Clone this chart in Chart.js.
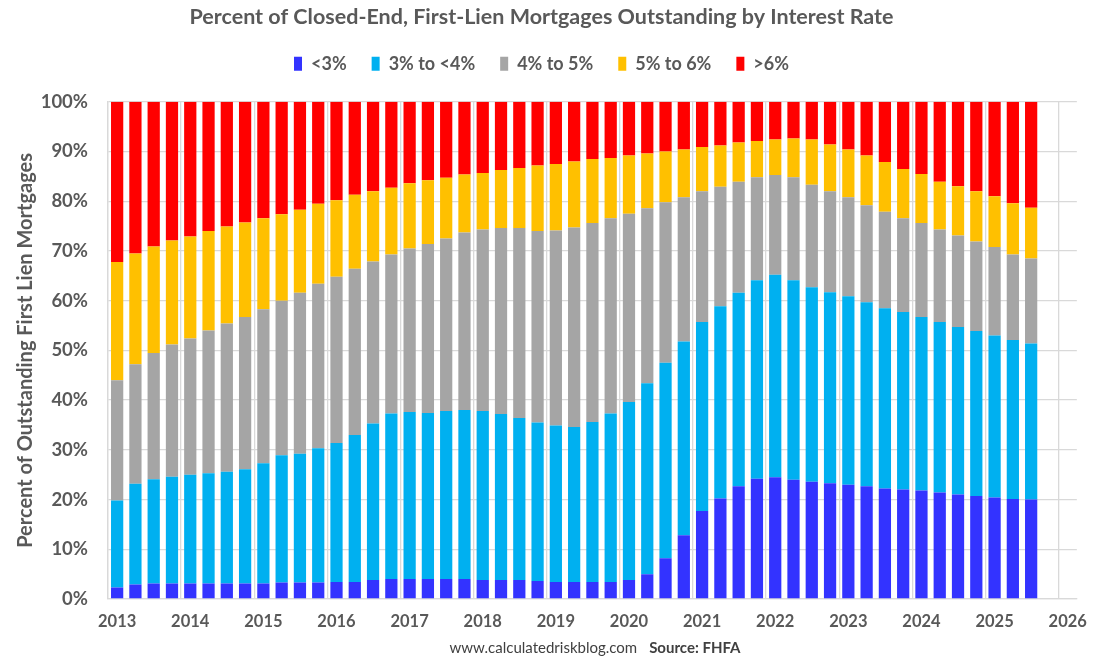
<!DOCTYPE html>
<html>
<head>
<meta charset="utf-8">
<script src="https://cdn.jsdelivr.net/npm/chart.js@4.4.1/dist/chart.umd.min.js"></script>
<style>
  html, body { margin: 0; padding: 0; background: #fff; }
  #wrap { width: 1100px; height: 667px; }
</style>
</head>
<body>
<div id="wrap"><canvas id="chart-rates"></canvas></div>
<script>
// quarters 2013 Q1 .. 2026 Q1 (last two slots have no data)
const quarters = [];
for (let y = 2013; y <= 2026; y++) {
  for (let q = 1; q <= 4; q++) {
    if (y === 2026 && q > 1) break;
    quarters.push(y + " Q" + q);
  }
}

const seriesNames = ["<3%", "3% to <4%", "4% to 5%", "5% to 6%", ">6%"];
const seriesColors = ["#3333FF", "#00B0F0", "#A5A5A5", "#FFC000", "#FF0000"];

const below3 = [
  2.3, 2.9, 3.1, 3.1, 3.1, 3.1, 3.1, 3.1, 3.1, 3.3, 3.3, 3.3,
  3.4, 3.4, 3.8, 4.0, 4.0, 4.0, 4.0, 4.0, 3.8, 3.8, 3.8, 3.6,
  3.4, 3.4, 3.4, 3.4, 3.8, 5.0, 8.2, 12.8, 17.7, 20.2, 22.7, 24.2,
  24.5, 24.0, 23.6, 23.3, 23.0, 22.7, 22.2, 22.0, 21.8, 21.4, 21.0, 20.7,
  20.4, 20.1, 20.0
];
const from3to4 = [
  17.5, 20.3, 21.0, 21.5, 21.9, 22.2, 22.5, 23.0, 24.2, 25.6, 25.9, 27.0,
  28.0, 29.6, 31.5, 33.3, 33.6, 33.4, 33.8, 34.0, 34.0, 33.4, 32.6, 31.9,
  31.5, 31.2, 32.2, 33.9, 35.8, 38.4, 39.3, 39.0, 38.0, 38.7, 38.9, 39.9,
  40.7, 40.1, 39.1, 38.4, 37.9, 37.0, 36.3, 35.7, 34.9, 34.3, 33.7, 33.2,
  32.6, 32.0, 31.4
];
const from4to5 = [
  24.2, 24.0, 25.4, 26.6, 27.4, 28.7, 29.8, 30.6, 31.0, 31.1, 32.4, 33.1,
  33.4, 33.4, 32.6, 32.0, 32.9, 34.0, 34.7, 35.7, 36.5, 37.4, 38.2, 38.5,
  39.2, 40.1, 40.0, 39.3, 37.9, 35.2, 32.3, 29.0, 26.3, 24.0, 22.3, 20.7,
  20.1, 20.7, 20.6, 20.3, 19.9, 19.5, 19.4, 18.9, 18.9, 18.6, 18.4, 18.0,
  17.8, 17.2, 17.1
];
const from5to6 = [
  23.8, 22.3, 21.4, 20.9, 20.5, 20.0, 19.5, 19.0, 18.3, 17.4, 16.7, 16.1,
  15.4, 14.9, 14.1, 13.4, 13.1, 12.8, 12.2, 11.7, 11.4, 11.7, 12.1, 13.2,
  13.4, 13.3, 12.9, 12.1, 11.7, 11.0, 10.2, 9.6, 8.9, 8.3, 7.9, 7.3,
  7.1, 7.8, 9.1, 9.4, 9.6, 10.0, 10.0, 9.9, 9.9, 9.6, 9.9, 10.1,
  10.2, 10.3, 10.2
];
const above6 = [
  32.2, 30.5, 29.1, 27.9, 27.1, 26.0, 25.1, 24.3, 23.4, 22.6, 21.7, 20.5,
  19.8, 18.7, 18.0, 17.3, 16.4, 15.8, 15.3, 14.6, 14.3, 13.7, 13.3, 12.8,
  12.5, 12.0, 11.5, 11.3, 10.8, 10.4, 10.0, 9.6, 9.1, 8.8, 8.2, 7.9,
  7.6, 7.4, 7.6, 8.6, 9.6, 10.8, 12.1, 13.5, 14.5, 16.1, 17.0, 18.0,
  19.0, 20.4, 21.3
];

const textColor = "#595959";
const gridColor = "#D9D9D9";
const fontFamily = "Lato, 'Open Sans', sans-serif";

// extra room under the legend
const legendMargin = {
  id: "legendMargin",
  beforeInit(chart) {
    const origFit = chart.legend.fit;
    chart.legend.fit = function fit() {
      origFit.bind(chart.legend)();
      this.height += 19;
    };
  }
};

// source line under the x axis
const sourceNote = {
  id: "sourceNote",
  afterDraw(chart) {
    const ctx = chart.ctx;
    const part1 = "www.calculatedriskblog.com";
    const part2 = "Source: FHFA";
    ctx.save();
    ctx.fillStyle = "#404040";
    ctx.textBaseline = "middle";
    ctx.font = "15px " + fontFamily;
    const w1 = ctx.measureText(part1).width;
    ctx.font = "bold 15px " + fontFamily;
    const w2 = ctx.measureText(part2).width;
    const gap = 12;
    let x = 595 - (w1 + gap + w2) / 2;
    ctx.font = "15px " + fontFamily;
    ctx.textAlign = "left";
    ctx.fillText(part1, x, 648);
    ctx.font = "bold 15px " + fontFamily;
    ctx.fillText(part2, x + w1 + gap, 648);
    ctx.restore();
  }
};

const allSeries = [below3, from3to4, from4to5, from5to6, above6];

new Chart(document.getElementById("chart-rates").getContext("2d"), {
  type: "bar",
  data: {
    labels: quarters,
    datasets: allSeries.map((values, i) => ({
      label: seriesNames[i],
      data: values,
      backgroundColor: seriesColors[i],
      borderWidth: 0,
      barPercentage: 1.0,
      categoryPercentage: 0.67
    }))
  },
  options: {
    responsive: true,
    maintainAspectRatio: false,
    animation: false,
    layout: { padding: { left: 0, right: 17, top: 0, bottom: 23 } },
    plugins: {
      title: {
        display: true,
        text: "Percent of Closed-End, First-Lien Mortgages Outstanding by Interest Rate",
        color: textColor,
        font: { family: fontFamily, size: 21.5, weight: "bold" },
        padding: { top: 4, bottom: 0 }
      },
      legend: {
        display: true,
        position: "top",
        labels: {
          color: textColor,
          font: { family: fontFamily, size: 18, weight: "bold" },
          boxWidth: 8,
          boxHeight: 14,
          padding: 25
        }
      },
      tooltip: { enabled: false }
    },
    scales: {
      x: {
        stacked: true,
        offset: true,
        afterFit(scale) { scale.height = 45; },
        grid: {
          offset: true,
          drawTicks: false,
          lineWidth: 1.3,
          color: (ctx) => (ctx.index !== undefined && ctx.index % 4 === 0 ? gridColor : "rgba(0,0,0,0)")
        },
        border: { display: true, color: gridColor, width: 1.3 },
        ticks: {
          autoSkip: false,
          maxRotation: 0,
          minRotation: 0,
          padding: 13,
          color: textColor,
          font: { family: fontFamily, size: 16.5, weight: "bold" },
          callback: function (value, index) {
            return index % 4 === 0 ? quarters[index].slice(0, 4) : "";
          }
        }
      },
      y: {
        stacked: true,
        min: 0,
        max: 100,
        afterFit(scale) { scale.width = 108; },
        grid: { drawTicks: false, color: gridColor, lineWidth: 1.3 },
        border: { display: true, color: gridColor, width: 1.3 },
        ticks: {
          stepSize: 10,
          padding: 20,
          color: textColor,
          font: { family: fontFamily, size: 18.5, weight: "bold" },
          callback: (v) => v + "%"
        },
        title: {
          display: true,
          text: "Percent of Outstanding First Lien Mortgages",
          color: textColor,
          font: { family: fontFamily, size: 20, weight: "bold" },
          padding: { top: 14, bottom: 0 }
        }
      }
    }
  },
  plugins: [legendMargin, sourceNote]
});
</script>
</body>
</html>
